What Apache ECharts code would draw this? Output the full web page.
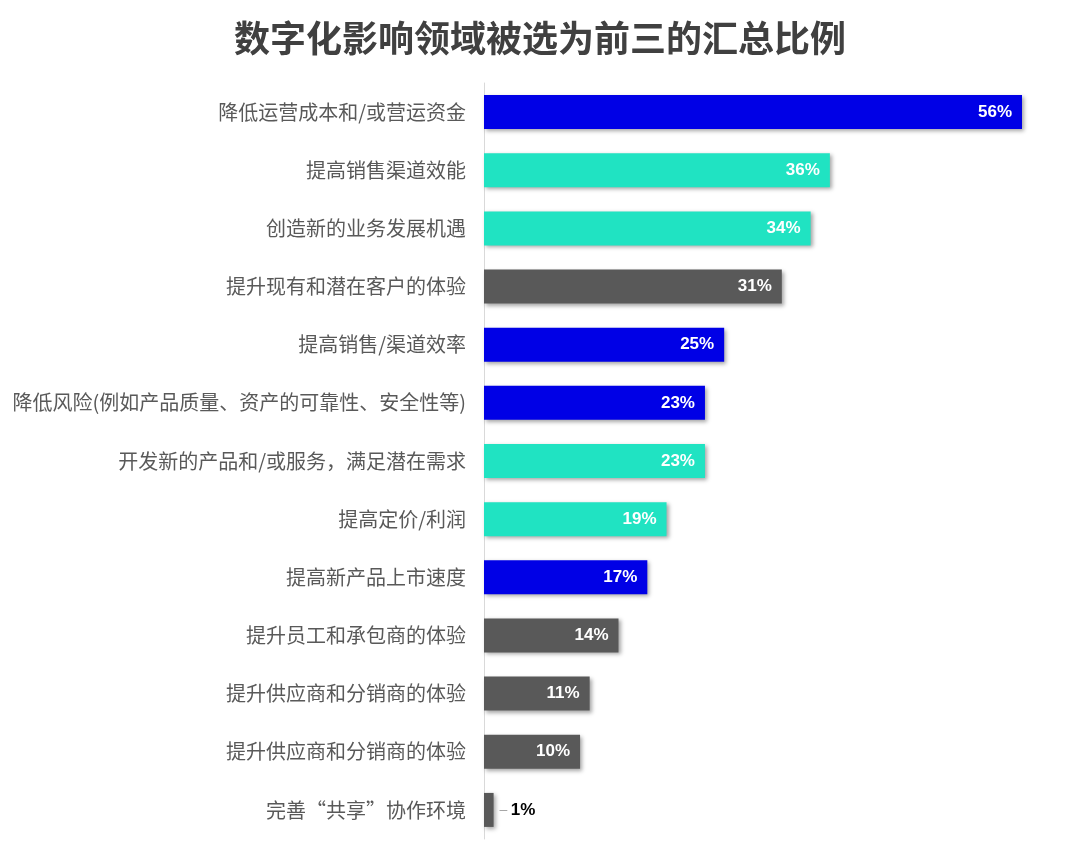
<!DOCTYPE html>
<html><head><meta charset="utf-8">
<script src="https://cdn.jsdelivr.net/npm/echarts@6/dist/echarts.min.js"></script>
<style>html,body{margin:0;padding:0;background:#fff}#c{width:1080px;height:859px}</style>
</head><body><div id="c"></div>
<script>
const title = "数字化影响领域被选为前三的汇总比例";
const categories = [
  "降低运营成本和/或营运资金",
  "提高销售渠道效能",
  "创造新的业务发展机遇",
  "提升现有和潜在客户的体验",
  "提高销售/渠道效率",
  "降低风险(例如产品质量、资产的可靠性、安全性等)",
  "开发新的产品和/或服务，满足潜在需求",
  "提高定价/利润",
  "提高新产品上市速度",
  "提升员工和承包商的体验",
  "提升供应商和分销商的体验",
  "提升供应商和分销商的体验",
  "完善“共享”协作环境"
];
const values = [56, 36, 34, 31, 25, 23, 23, 19, 17, 14, 11, 10, 1];
const groups = ["blue","teal","teal","gray","blue","blue","teal","teal","blue","gray","gray","gray","gray"];
const palette = {blue:"#0000E6", teal:"#20E3C2", gray:"#595959"};

const chart = echarts.init(document.getElementById('c'));
chart.setOption({
  animation:false,
  title:{text:title,left:'center',top:15,textStyle:{fontFamily:'Noto Sans CJK SC',fontSize:36,fontWeight:'bold',color:'#404040'}},
  grid:{left:484,right:58,top:83,bottom:20,containLabel:false},
  xAxis:{type:'value',min:0,max:56,show:false},
  yAxis:{type:'category',inverse:true,data:categories,
    axisLine:{lineStyle:{color:'#d9d9d9',width:1}},axisTick:{show:false},
    axisLabel:{fontFamily:'Noto Sans CJK SC',fontSize:20,color:'#595959',margin:18}},
  series:[{type:'bar',barWidth:34,
    data:values.map((v,i)=>{
      const small = v < 5;
      return {value:v,
        itemStyle:{color:palette[groups[i]],shadowColor:'rgba(0,0,0,0.35)',shadowBlur:4,shadowOffsetX:2,shadowOffsetY:2},
        label: small ? {show:true,position:'right',distance:6,formatter:'{l|–} {v|'+v+'%}',
            rich:{l:{color:'#a6a6a6',fontSize:14},v:{color:'#000',fontSize:17,fontWeight:'bold',fontFamily:'Liberation Sans'}}}
          : {show:true,position:'insideRight',distance:10,formatter:v+'%',color:'#fff',fontSize:17,fontWeight:'bold',fontFamily:'Liberation Sans'}
      };
    })
  }]
});
</script></body></html>
